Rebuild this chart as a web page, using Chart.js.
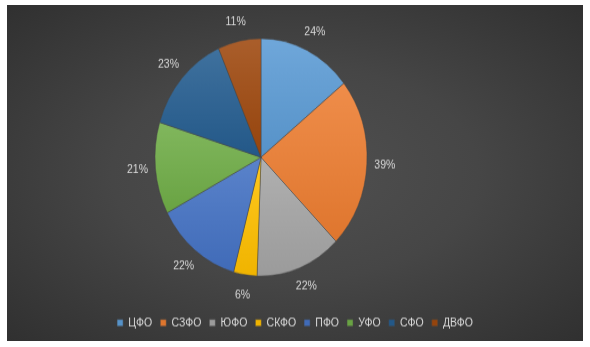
<!DOCTYPE html>
<html>
<head>
<meta charset="utf-8">
<script src="https://cdn.jsdelivr.net/npm/chart.js@4.4.0/dist/chart.umd.min.js"></script>
<style>
html, body { margin: 0; padding: 0; background: #fff; }
#panel {
    position: absolute; left: 7px; top: 5px; width: 576px; height: 336px; overflow: hidden;
    background: radial-gradient(ellipse at 50% 50%, #505050 0%, #464646 45%, #303030 100%);
}
#wrap { width: 576px; height: 300px; transform: scaleY(1.12); transform-origin: 0 0; }
</style>
</head>
<body>
<div id="panel"><div id="wrap"><canvas id="pie" width="576" height="300"></canvas></div></div>
<script>
// Data
const districts = ['ЦФО', 'СЗФО', 'ЮФО', 'СКФО', 'ПФО', 'УФО', 'СФО', 'ДВФО'];
const shares = [24, 39, 22, 6, 22, 21, 23, 11];
const sliceColors = ['#5B9BD5', '#ED7D31', '#A5A5A5', '#FFC000', '#4472C4', '#70AD47', '#255E91', '#9E480E'];

// pie placement (canvas px)
const pieCenter = { x: 254, y: 136 };
const pieRadius = 106;

function mix(hex, target, t) {
    const n = parseInt(hex.slice(1), 16);
    const c = [(n >> 16) & 255, (n >> 8) & 255, n & 255].map(v => Math.round(v + (target - v) * t));
    return 'rgb(' + c.join(',') + ')';
}

// each slice gets its own top-to-bottom gradient, like the office style
function sliceFill(ctx) {
    const i = ctx.dataIndex;
    const base = sliceColors[i];
    const area = ctx.chart.chartArea;
    if (!area || i === undefined) return base;
    const total = shares.reduce((a, b) => a + b, 0);
    let cum = 0;
    for (let k = 0; k < i; k++) cum += shares[k];
    const a0 = -Math.PI / 2 + 2 * Math.PI * cum / total;
    const a1 = a0 + 2 * Math.PI * shares[i] / total;
    const cy = (area.top + area.bottom) / 2;
    const ys = [cy, cy + pieRadius * Math.sin(a0), cy + pieRadius * Math.sin(a1)];
    [Math.PI / 2, 3 * Math.PI / 2, -Math.PI / 2].forEach(a => {
        if (a > a0 && a < a1) ys.push(cy + pieRadius * Math.sin(a));
    });
    const g = ctx.chart.ctx.createLinearGradient(0, Math.min(...ys), 0, Math.max(...ys));
    g.addColorStop(0, mix(base, 255, 0.12));
    g.addColorStop(1, mix(base, 0, 0.06));
    return g;
}

// move the chart area so the pie sits left of the legend centre
const placePie = {
    id: 'placePie',
    afterLayout(chart) {
        const a = chart.chartArea;
        a.left = pieCenter.x - pieRadius;
        a.right = pieCenter.x + pieRadius;
        a.top = pieCenter.y - pieRadius;
        a.bottom = pieCenter.y + pieRadius;
        a.width = a.right - a.left;
        a.height = a.bottom - a.top;
    }
};

// percentage labels outside each slice
const outsideLabels = {
    id: 'outsideLabels',
    afterDatasetsDraw(chart) {
        const ctx = chart.ctx;
        const meta = chart.getDatasetMeta(0);
        ctx.save();
        ctx.fillStyle = '#d9d9d9';
        ctx.font = '10.5px "Liberation Sans", Arial, sans-serif';
        ctx.textAlign = 'center';
        ctx.textBaseline = 'middle';
        meta.data.forEach((arc, i) => {
            const p = arc.getProps(['x', 'y', 'startAngle', 'endAngle', 'outerRadius']);
            const mid = (p.startAngle + p.endAngle) / 2;
            const r = p.outerRadius + 18;
            ctx.fillText(shares[i] + '%', p.x + Math.cos(mid) * r, p.y + Math.sin(mid) * r);
        });
        ctx.restore();
    }
};

new Chart(document.getElementById('pie'), {
    type: 'pie',
    data: {
        labels: districts,
        datasets: [{
            data: shares,
            backgroundColor: sliceFill,
            borderColor: 'rgba(70,70,70,0.6)',
            borderWidth: 0.8,
            radius: pieRadius,
            clip: false
        }]
    },
    options: {
        responsive: false,
        animation: false,
        devicePixelRatio: 1,
        layout: { padding: { bottom: 1 } },
        plugins: {
            legend: {
                position: 'bottom',
                labels: {
                    color: '#d9d9d9',
                    font: { family: '"Liberation Sans", Arial, sans-serif', size: 10.5 },
                    boxWidth: 6,
                    boxHeight: 6,
                    padding: 8,
                    useBorderRadius: false
                }
            },
            tooltip: { enabled: false }
        }
    },
    plugins: [placePie, outsideLabels]
});
</script>
</body>
</html>
